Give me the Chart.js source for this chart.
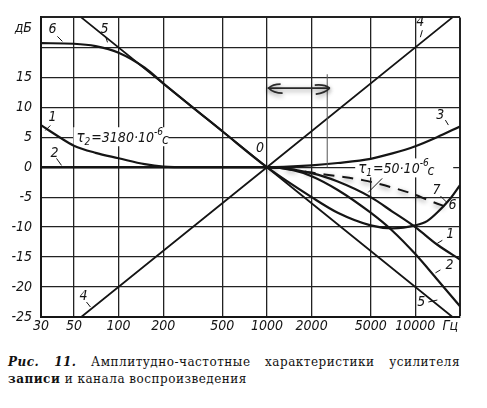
<!DOCTYPE html>
<html><head><meta charset="utf-8">
<script src="https://cdn.jsdelivr.net/npm/chart.js@4"></script>
<style>
html,body{margin:0;padding:0;background:#fff;width:487px;height:408px;overflow:hidden}
#wrap{position:absolute;left:0;top:0;width:487px;height:345px}
.cap{position:absolute;left:8px;width:452px;font-family:'DejaVu Serif','Liberation Serif',serif;font-size:12px;color:#111;letter-spacing:0.5px;white-space:nowrap}
</style></head><body>
<div id="wrap"><canvas id="c"></canvas></div>
<div class="cap" style="top:355px;text-align:justify;text-align-last:justify;white-space:normal"><i><b>Рис. 11.</b></i> Амплитудно-частотные характеристики усилителя</div>
<div class="cap" style="top:372px"><b>записи</b> и канала воспроизведения</div>
<script>
// ---- axis ticks ----
const xTicks = [30, 50, 100, 200, 500, 1000, 2000, 5000, 10000, 20000];
const xTickLabels = ['30', '50', '100', '200', '500', '1000', '2000', '5000', '10000', ''];
const yTicks = [-25, -20, -15, -10, -5, 0, 5, 10, 15, 20, 25];
const yTickLabels = ['-25', '-20', '-15', '-10', '-5', '0', '5', '10', '15', '', ''];

// ---- series (frequency in Hz, level in dB) ----
const freq1 = [30, 40, 50, 70, 100, 150, 200, 300, 1000, 2000, 3000, 5000, 7000, 10000, 14000, 20000];
const db1   = [7, 5, 3.6, 2.4, 1.5, 0.5, 0.1, 0, 0, -1, -2.4, -5, -7.4, -10, -12.9, -15.4];

const freq2 = [30, 1000, 1500, 2000, 3000, 5000, 7000, 10000, 14000, 20000];
const db2   = [0, 0, -0.5, -1.5, -3.8, -7.6, -10.6, -14.5, -18.7, -23.2];

const freq3 = [30, 1000, 1300, 2000, 3000, 5000, 7000, 10000, 14000, 20000];
const db3   = [0, 0, 0.05, 0.3, 0.7, 1.4, 2.3, 3.5, 5, 6.8];

const freq4 = [56, 1000, 17800];
const db4   = [-25, 0, 25];

const freq5 = [56, 1000, 17800];
const db5   = [25, 0, -25];

const freq6 = [30, 50, 70, 100, 150, 200, 500, 1000, 2000, 3000, 5000, 7000, 10000, 12000, 14000, 17000, 20000];
const db6   = [20.7, 20.6, 20.2, 19.1, 16.6, 14, 6, 0, -5, -7.6, -9.7, -10.2, -9.7, -9, -7.6, -5.4, -3];

const freq7 = [1000, 1500, 2000, 3000, 4500, 7000, 10000, 12500, 17000];
const db7   = [0, -0.4, -0.9, -1.5, -2.2, -3.4, -4.6, -5.6, -6.8];

// ---- curve number labels (text, frequency, dB) ----
const curveLabelText = ['6', '5', '1', '2', '4', '3', '0', '4', '7', '6', '1', '2', '5'];
const curveLabelFreq = [35.8, 80.4, 35.8, 37, 10810, 14750, 897, 58, 13870, 17780, 17220, 16980, 10980];
const curveLabelDb   = [23.0, 23.0, 8.3, 2.3, 24.2, 8.7, 3.2, -21.5, -3.8, -6.3, -11.2, -16.3, -22.5];
</script>
<script>
const pts = (fs, ds) => fs.map((f, i) => ({x: f, y: ds[i]}));
const INK = '#151515';
const FONT = "'Liberation Sans Narrow','DejaVu Sans Condensed',sans-serif";

// leader offsets (style only): [dx1,dy1,dx2,dy2] relative to label centre
const leaders = [[5,7,10,12],[1,7,3,13],[-2,8,-7,13],[2,5,7,12],[2,8,0,15],[5,5,8,10],null,[3,6,7,11],[4,6,10,12],null,[-8,6,-13,9],[-9,5,-14,8],[7,0,16,-2]];

const ann = {
  id: 'ann',
  beforeDatasetsDraw(chart) {
    const {ctx, scales: {x, y}} = chart;
    ctx.save();
    ctx.fillStyle = '#fff';
    ctx.fillRect(x.getPixelForValue(52) - 3, y.getPixelForValue(5) - 10, 95, 19);
    ctx.fillRect(x.getPixelForValue(4120) - 3, y.getPixelForValue(-0.2) - 10, 98, 19);
    ctx.restore();
  },
  beforeDatasetDraw(chart, args) {
    if (args.index === 6) {
      const c = chart.ctx; c.save();
      c.shadowColor = 'rgba(0,0,0,0.45)'; c.shadowBlur = 5; c.shadowOffsetY = 2;
    }
  },
  afterDatasetDraw(chart, args) {
    if (args.index === 6) chart.ctx.restore();
  },
  afterDatasetsDraw(chart) {
    const {ctx, scales: {x, y}} = chart;
    ctx.save();
    ctx.fillStyle = INK; ctx.strokeStyle = INK;
    ctx.textAlign = 'center'; ctx.textBaseline = 'middle';
    ctx.font = 'italic 14px ' + FONT;
    ctx.lineWidth = 1;
    curveLabelText.forEach((t, i) => {
      const px = x.getPixelForValue(curveLabelFreq[i]), py = y.getPixelForValue(curveLabelDb[i]);
      ctx.fillText(t, px, py);
      const l = leaders[i];
      if (l) { ctx.beginPath(); ctx.moveTo(px + l[0], py + l[1]); ctx.lineTo(px + l[2], py + l[3]); ctx.stroke(); }
    });
    const tau = (f, db, sub, val) => {
      let px = x.getPixelForValue(f); const py = y.getPixelForValue(db) + 5;
      ctx.textAlign = 'left'; ctx.textBaseline = 'alphabetic';
      ctx.font = 'italic 15px ' + FONT; ctx.fillText('τ', px, py); px += ctx.measureText('τ').width;
      ctx.font = 'italic 10px ' + FONT; ctx.fillText(sub, px, py + 3); px += ctx.measureText(sub).width + 1;
      ctx.font = 'italic 14px ' + FONT; ctx.fillText(val, px, py); px += ctx.measureText(val).width;
      ctx.font = 'italic 10px ' + FONT; ctx.fillText('-6', px, py - 7); px += ctx.measureText('-6').width - 1;
      ctx.font = 'italic 14px ' + FONT; ctx.fillText('с', px, py + 2);
    };
    tau(52, 5, '2', '=3180·10');
    tau(4120, -0.2, '1', '=50·10');
    const tx = x.getPixelForValue(4120), ty = y.getPixelForValue(-0.2);
    ctx.beginPath(); ctx.moveTo(tx + 24, ty + 10); ctx.lineTo(tx + 10, ty + 24); ctx.stroke();
    ctx.font = 'italic 14px ' + FONT; ctx.textBaseline = 'middle';
    ctx.textAlign = 'right'; ctx.fillText('дБ', x.left - 9, y.getPixelForValue(23.2));
    ctx.textAlign = 'center'; ctx.fillText('Гц', x.getPixelForValue(17220), y.bottom + 9);
    ctx.strokeStyle = 'rgba(90,90,90,0.8)'; ctx.lineWidth = 1.3;
    const gx = x.getPixelForValue(2550);
    ctx.beginPath(); ctx.moveTo(gx, y.getPixelForValue(15.5)); ctx.lineTo(gx, y.getPixelForValue(0)); ctx.stroke();
    ctx.shadowColor = 'rgba(0,0,0,0.45)'; ctx.shadowBlur = 5; ctx.shadowOffsetY = 2;
    ctx.strokeStyle = '#2a2a2a'; ctx.lineWidth = 1.6;
    const ax1 = x.getPixelForValue(1010), ax2 = x.getPixelForValue(2650), ay = y.getPixelForValue(13.2);
    ctx.beginPath(); ctx.moveTo(ax1, ay); ctx.lineTo(ax2, ay); ctx.stroke();
    ctx.beginPath(); ctx.moveTo(ax1 + 1, ay); ctx.quadraticCurveTo(ax1 + 5, ay - 4, ax1 + 13, ay - 4); ctx.stroke();
    ctx.beginPath(); ctx.moveTo(ax1 + 1, ay); ctx.quadraticCurveTo(ax1 + 6, ay + 5, ax1 + 15, ay + 5); ctx.stroke();
    ctx.beginPath(); ctx.moveTo(ax2, ay); ctx.quadraticCurveTo(ax2 - 5, ay - 4, ax2 - 15, ay - 3); ctx.stroke();
    ctx.beginPath(); ctx.moveTo(ax2, ay); ctx.quadraticCurveTo(ax2 - 5, ay + 5, ax2 - 14, ay + 6); ctx.stroke();
    ctx.restore();
  }
};

const mk = (fs, ds, extra) => Object.assign({
  data: pts(fs, ds), borderColor: INK, borderWidth: 2.2, pointRadius: 0,
  fill: false, cubicInterpolationMode: 'monotone', tension: 0.4
}, extra || {});

new Chart(document.getElementById('c'), {
  type: 'line',
  data: {
    datasets: [
      mk(freq1, db1),
      mk(freq2, db2),
      mk(freq3, db3),
      mk(freq4, db4, {tension: 0, cubicInterpolationMode: 'default', borderWidth: 1.8}),
      mk(freq5, db5, {tension: 0, cubicInterpolationMode: 'default', borderWidth: 1.8}),
      mk(freq6, db6),
      mk(freq7, db7, {borderDash: [11, 8], borderWidth: 2})
    ]
  },
  options: {
    responsive: true, maintainAspectRatio: false, animation: false,
    layout: {padding: {top: 17, right: 27, left: 0, bottom: 0}},
    plugins: {legend: {display: false}, tooltip: {enabled: false}},
    scales: {
      x: {
        type: 'logarithmic', min: 30, max: 20000,
        afterBuildTicks: s => { s.ticks = xTicks.map(v => ({value: v})); },
        afterFit: s => { s.height = 28; },
        ticks: {
          autoSkip: false, maxRotation: 0, padding: 1, color: INK,
          font: {family: FONT, size: 14, style: 'italic'},
          callback: (v, i) => xTickLabels[i]
        },
        grid: {color: '#222', drawTicks: false,
               lineWidth: c => (c.tick && c.tick.value === 20000) ? 2 : 1.3},
        border: {display: true, color: INK, width: 2}
      },
      y: {
        min: -25, max: 25,
        afterBuildTicks: s => { s.ticks = yTicks.map(v => ({value: v})); },
        afterFit: s => { s.width = 41; },
        ticks: {
          autoSkip: false, padding: 9, color: INK,
          font: {family: FONT, size: 14, style: 'italic'},
          callback: (v, i) => yTickLabels[i]
        },
        grid: {color: '#222', drawTicks: false,
               lineWidth: c => (c.tick && c.tick.value === 25) ? 2 : 1.3},
        border: {display: true, color: INK, width: 2}
      }
    }
  },
  plugins: [ann]
});
</script>
</body></html>
